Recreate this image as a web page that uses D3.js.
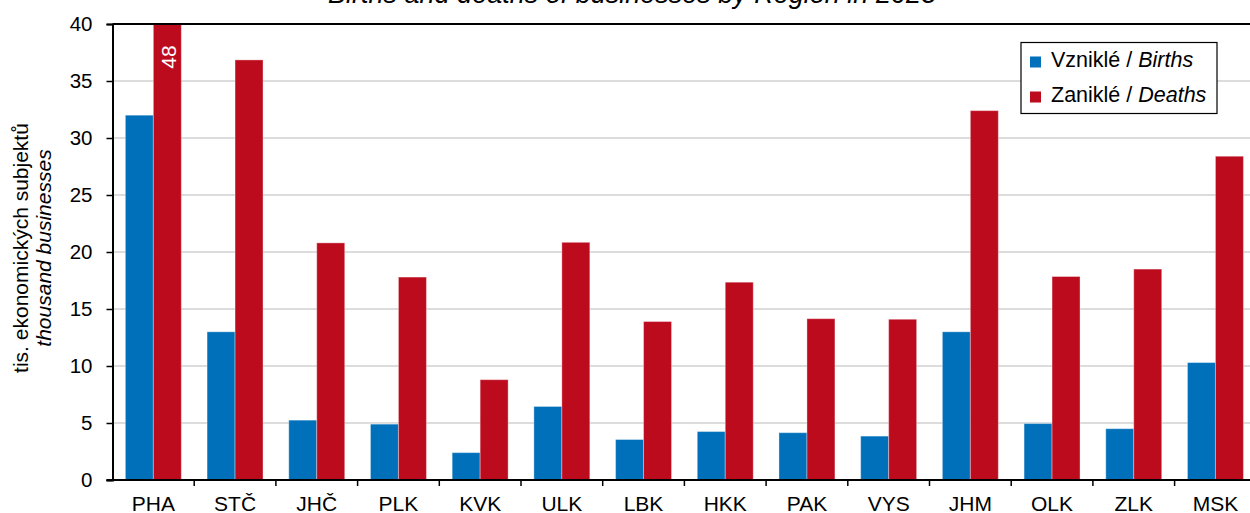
<!DOCTYPE html>
<html>
<head>
<meta charset="utf-8">
<script src="https://cdn.jsdelivr.net/npm/d3@7"></script>
<style>
  body { margin: 0; background: #fff; }
  svg { display: block; font-family: "Liberation Sans", Arial, sans-serif; }
</style>
</head>
<body>
<div id="chart"></div>
<script>
// data
var regions = ["PHA", "STČ", "JHČ", "PLK", "KVK", "ULK", "LBK", "HKK", "PAK", "VYS", "JHM", "OLK", "ZLK", "MSK"];
var births = [32.0, 13.0, 5.25, 4.9, 2.4, 6.45, 3.55, 4.25, 4.15, 3.85, 13.0, 4.95, 4.5, 10.3];
var deaths = [48.0, 36.85, 20.8, 17.8, 8.8, 20.85, 13.9, 17.35, 14.15, 14.1, 32.4, 17.85, 18.5, 28.4];
var yTicks = [0, 5, 10, 15, 20, 25, 30, 35, 40];
var seriesNames = ["births", "deaths"];
var seriesColors = { births: "#0070bb", deaths: "#bd0b1e" };

var W = 1250, H = 513;
var margin = { top: 24, left: 112.5, bottom: 33 };
var plotRight = 112.5 + 14 * 81.7;

var svg = d3.select("#chart")
  .append("svg")
  .attr("width", W)
  .attr("height", H);

// title (mostly cut off at the top in the original)
svg.append("text")
  .attr("x", 632)
  .attr("y", 3)
  .attr("text-anchor", "middle")
  .attr("font-size", 27)
  .attr("font-style", "italic")
  .text("Births and deaths of businesses by Region in 2023");

var x = d3.scaleBand()
  .domain(regions)
  .range([margin.left, plotRight])
  .padding(0);

var x1 = d3.scaleBand()
  .domain(seriesNames)
  .range([0, x.bandwidth()])
  .paddingInner(0)
  .paddingOuter(0.46);

var y = d3.scaleLinear()
  .domain([0, 40])
  .range([H - margin.bottom, margin.top])
  .clamp(true);

// gridlines
svg.append("g")
  .selectAll("line")
  .data(yTicks.filter(function (d) { return d > 0 && d < 40; }))
  .enter()
  .append("line")
  .attr("x1", margin.left)
  .attr("x2", plotRight)
  .attr("y1", function (d) { return y(d); })
  .attr("y2", function (d) { return y(d); })
  .style("stroke", "#d0d0d0")
  .style("stroke-width", 1.6);

// bars
var rows = regions.map(function (r, i) {
  return { region: r, births: births[i], deaths: deaths[i] };
});

var groups = svg.append("g")
  .selectAll("g")
  .data(rows)
  .enter()
  .append("g")
  .attr("transform", function (d) { return "translate(" + x(d.region) + ",0)"; });

groups.selectAll("rect")
  .data(function (d) { return seriesNames.map(function (k) { return { key: k, value: d[k] }; }); })
  .enter()
  .append("rect")
  .attr("x", function (d) { return x1(d.key); })
  .attr("y", function (d) { return y(d.value); })
  .attr("width", x1.bandwidth())
  .attr("height", function (d) { return y(0) - y(d.value); })
  .style("fill", function (d) { return seriesColors[d.key]; })
  .style("stroke", "rgba(255,255,255,0.35)")
  .style("stroke-width", 1);

// label for the clipped bar
rows.forEach(function (d) {
  if (d.deaths > 40) {
    var cx = x(d.region) + x1("deaths") + x1.bandwidth() / 2;
    svg.append("text")
      .attr("transform", "translate(" + (cx + 9) + "," + (y(40) + 33) + ") rotate(-90)")
      .attr("text-anchor", "middle")
      .attr("font-size", 21)
      .attr("fill", "#fff")
      .text(d3.format("d")(d.deaths));
  }
});

// frame top
svg.append("line")
  .attr("x1", margin.left)
  .attr("x2", plotRight)
  .attr("y1", y(40))
  .attr("y2", y(40))
  .style("stroke", "#000")
  .style("stroke-width", 2);

// y axis
var yAxis = svg.append("g")
  .attr("transform", "translate(" + margin.left + ",0)")
  .call(d3.axisLeft(y).tickValues(yTicks).tickSize(6).tickPadding(14));
yAxis.select(".domain").style("stroke-width", 2);
yAxis.selectAll(".tick line").style("stroke-width", 1.5);
yAxis.selectAll("text").attr("font-size", 20.5).attr("fill", "#000").style("font-family", "Liberation Sans, Arial, sans-serif");

// x axis, ticks on band edges
var xAxis = svg.append("g")
  .attr("transform", "translate(0," + y(0) + ")");
xAxis.append("line")
  .attr("x1", margin.left - 6)
  .attr("x2", plotRight)
  .style("stroke", "#000")
  .style("stroke-width", 2);
xAxis.selectAll("line.edge")
  .data(regions.slice(1))
  .enter()
  .append("line")
  .attr("class", "edge")
  .attr("x1", function (d) { return x(d); })
  .attr("x2", function (d) { return x(d); })
  .attr("y1", 0)
  .attr("y2", 6)
  .style("stroke", "#000")
  .style("stroke-width", 1.5);
xAxis.selectAll("text")
  .data(regions)
  .enter()
  .append("text")
  .attr("x", function (d) { return x(d) + x.bandwidth() / 2; })
  .attr("y", 31)
  .attr("text-anchor", "middle")
  .attr("font-size", 21)
  .text(function (d) { return d; });

// y axis title
var yTitle = svg.append("text")
  .attr("transform", "translate(28,248) rotate(-90)")
  .attr("text-anchor", "middle")
  .attr("font-size", 21);
yTitle.append("tspan").attr("x", 0).attr("dy", 0).text("tis. ekonomických subjektů");
yTitle.append("tspan").attr("x", 0).attr("dy", 23).attr("font-style", "italic").text("thousand businesses");

// legend
var legend = svg.append("g").attr("transform", "translate(1021,42.5)");
legend.append("rect")
  .attr("width", 196)
  .attr("height", 71)
  .style("fill", "#fff")
  .style("stroke", "#000")
  .style("stroke-width", 1.2);
var legendItems = [
  { key: "births", cz: "Vzniklé / ", en: "Births" },
  { key: "deaths", cz: "Zaniklé / ", en: "Deaths" }
];
legendItems.forEach(function (d, i) {
  legend.append("rect")
    .attr("x", 9)
    .attr("y", 14 + i * 35)
    .attr("width", 11)
    .attr("height", 11)
    .style("fill", seriesColors[d.key]);
  var t = legend.append("text")
    .attr("x", 30)
    .attr("y", 24.5 + i * 35)
    .attr("font-size", 21.5);
  t.append("tspan").text(d.cz);
  t.append("tspan").attr("font-style", "italic").text(d.en);
});
</script>
</body>
</html>
